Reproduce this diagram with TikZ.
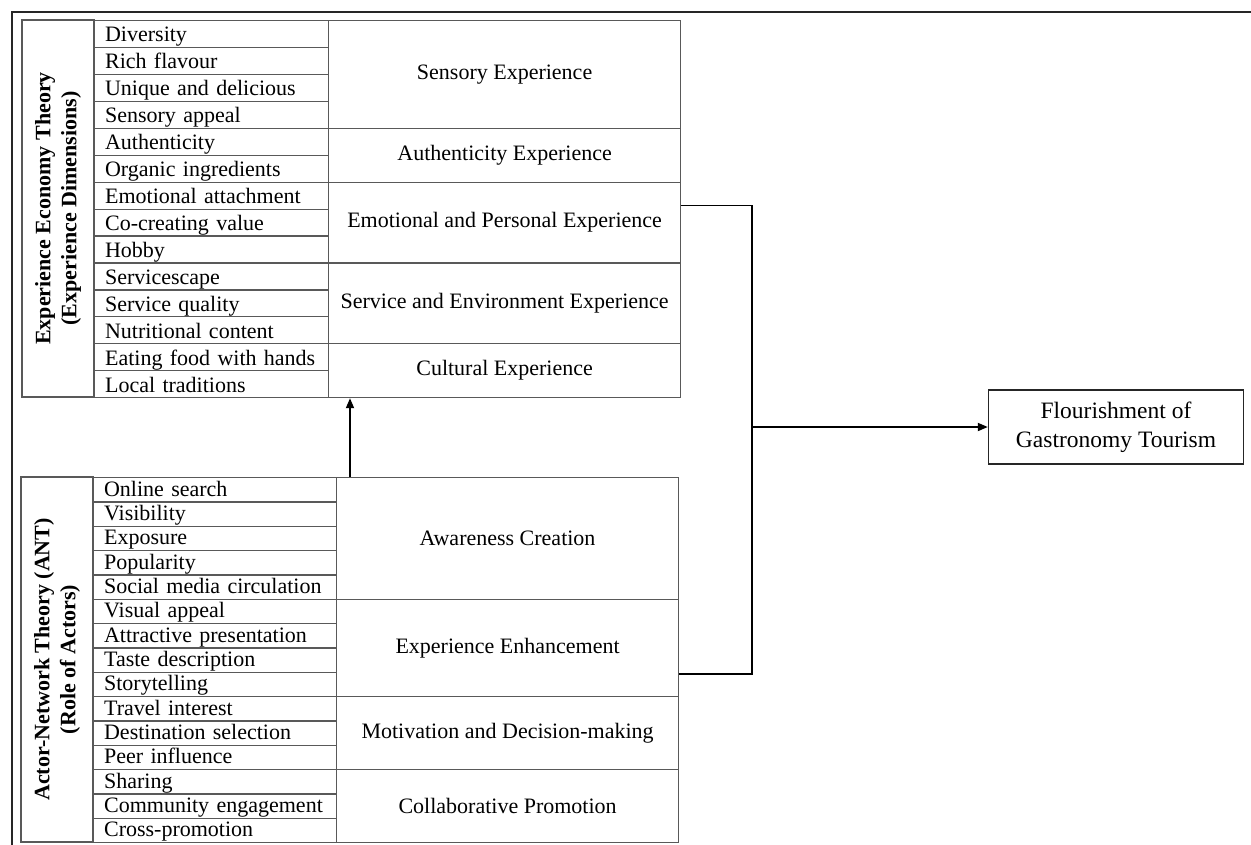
\documentclass[tikz,border=0pt]{standalone}
\usepackage{fontspec}
\setmainfont{Liberation Serif}
\usetikzlibrary{arrows.meta,calc}
\begin{document}
\begin{tikzpicture}[x=1pt,y=-1pt,
  tl/.style={draw=black!65, line width=1.2pt},
  txt/.style={font=\fontsize{22}{25}\selectfont},
  itemcell/.style={tl, txt, anchor=north west, inner xsep=10.5pt, inner ysep=0pt,
    text width=#1, align=left, text depth=5.6pt},
  grp/.style={tl, txt, anchor=north west, inner sep=0pt, minimum width=#1},
  lab/.style={tl, rotate=90, inner sep=0pt, align=center,
    font=\bfseries\fontsize{22}{26}\selectfont},
  conn/.style={draw=black, line width=1.8pt},
  arr/.style={conn, -{Triangle[length=10pt,width=8pt]}},
  frame/.style={draw=black!85, line width=2.6pt}
]
\useasboundingbox (0,0) rectangle (1251,844);
% outer frame
\draw[frame] (12,846) -- (12,12) -- (1253,12);

% ---------- upper table ----------
\node[lab, minimum width=377, minimum height=72] (ulab) at (58,208.5)
  {Experience Economy Theory\\(Experience Dimensions)};
\foreach \t [count=\i from 0] in {Diversity, Rich flavour, Unique and delicious,
  Sensory appeal, Authenticity, Organic ingredients, Emotional attachment,
  Co-creating value, Hobby, Servicescape, Service quality, Nutritional content,
  Eating food with hands, Local traditions}
  \node[itemcell=213, minimum height=26.93, text height=21.33pt] (u\i)
    at (94,{20+\i*26.93}) {\t};
\node[grp=352, minimum height=107.72] (ug1) at (328,20) {Sensory Experience};
\node[grp=352, minimum height=53.86] (ug2) at (328,127.72) {Authenticity Experience};
\node[grp=352, minimum height=80.79] (ug3) at (328,181.58) {Emotional and Personal Experience};
\node[grp=352, minimum height=80.79] (ug4) at (328,262.37) {Service and Environment Experience};
\node[grp=352, minimum height=53.86] (ug5) at (328,343.16) {Cultural Experience};

% ---------- lower table ----------
\node[lab, minimum width=365, minimum height=72] (llab) at (57,659.5)
  {Actor-Network Theory (ANT)\\(Role of Actors)};
\foreach \t [count=\i from 0] in {Online search, Visibility, Exposure, Popularity,
  Social media circulation, Visual appeal, Attractive presentation,
  Taste description, Storytelling, Travel interest, Destination selection,
  Peer influence, Sharing, Community engagement, Cross-promotion}
  \node[itemcell=222, minimum height=24.33, text height=18.73pt] (l\i)
    at (93,{477+\i*24.33}) {\t};
\node[grp=342, minimum height=121.67] (lg1) at (336,477) {Awareness Creation};
\node[grp=342, minimum height=97.33] (lg2) at (336,598.67) {Experience Enhancement};
\node[grp=342, minimum height=73] (lg3) at (336,696) {Motivation and Decision-making};
\node[grp=342, minimum height=73] (lg4) at (336,769) {Collaborative Promotion};

% ---------- outcome ----------
\node[draw=black!85, line width=1.4pt, minimum width=255, minimum height=74,
  inner sep=0pt, align=center, font=\fontsize{23.5}{29}\selectfont] (final)
  at (1116,427) {Flourishment of\\Gastronomy Tourism};

% ---------- connectors ----------
\draw[arr] ([xshift=14pt]lg1.north west) -- ([xshift=22pt]ug5.south west);
\coordinate (bx) at ([xshift=71pt,yshift=17pt]ug3.east);
\draw[conn] ([yshift=17pt]ug3.east) -- (bx) |- ([yshift=-26pt]lg2.east);
\draw[arr] (bx |- final.west) -- (final.west);
\end{tikzpicture}
\end{document}
